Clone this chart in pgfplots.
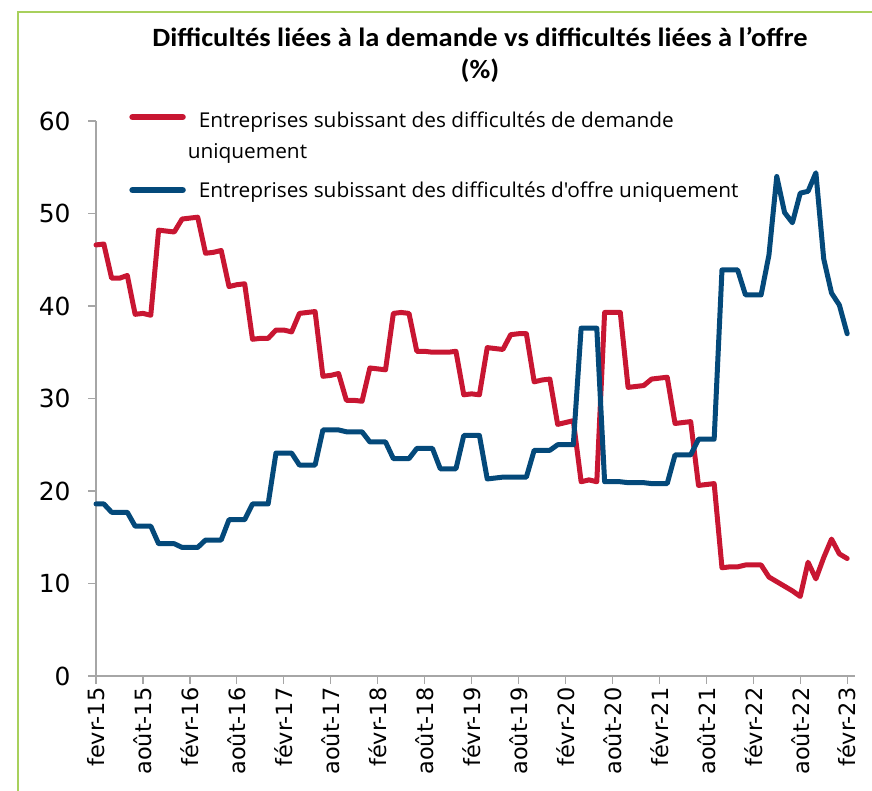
\documentclass[border=0pt]{standalone}
\usepackage{fontspec}
\setmainfont{DejaVu Sans}
\newfontfamily\legfont[FakeStretch=1.02]{Open Sans}
\newfontfamily\titlefont[FakeStretch=1.08]{Carlito}
\usepackage{pgfplots}
\pgfplotsset{compat=1.18}
\usepackage{pgfplotstable}
\definecolor{cred}{RGB}{200,22,50}
\definecolor{cblue}{RGB}{4,73,122}
\definecolor{caxis}{RGB}{166,166,166}
\definecolor{cframe}{RGB}{168,208,92}

\pgfplotstableread{
m red blue
0 46.6 18.6
1 46.7 18.6
2 43.0 17.7
3 43.0 17.7
4 43.3 17.7
5 39.1 16.2
6 39.2 16.2
7 39.0 16.2
8 48.2 14.3
9 48.1 14.3
10 48.0 14.3
11 49.4 13.9
12 49.5 13.9
13 49.6 13.9
14 45.7 14.7
15 45.8 14.7
16 46.0 14.7
17 42.1 16.9
18 42.3 16.9
19 42.4 16.9
20 36.4 18.6
21 36.5 18.6
22 36.5 18.6
23 37.4 24.1
24 37.4 24.1
25 37.2 24.1
26 39.2 22.8
27 39.3 22.8
28 39.4 22.8
29 32.4 26.6
30 32.5 26.6
31 32.7 26.6
32 29.8 26.4
33 29.8 26.4
34 29.7 26.4
35 33.3 25.3
36 33.2 25.3
37 33.1 25.3
38 39.2 23.5
39 39.3 23.5
40 39.2 23.5
41 35.1 24.6
42 35.1 24.6
43 35.0 24.6
44 35.0 22.4
45 35.0 22.4
46 35.1 22.4
47 30.4 26.0
48 30.5 26.0
49 30.4 26.0
50 35.5 21.3
51 35.4 21.4
52 35.3 21.5
53 36.9 21.5
54 37.0 21.5
55 37.0 21.5
56 31.8 24.4
57 32.0 24.4
58 32.1 24.4
59 27.2 25.0
60 27.4 25.0
61 27.6 25.0
62 21.0 37.6
63 21.2 37.6
64 21.0 37.6
65 39.3 21.0
66 39.3 21.0
67 39.3 21.0
68 31.2 20.9
69 31.3 20.9
70 31.4 20.9
71 32.1 20.8
72 32.2 20.8
73 32.3 20.8
74 27.3 23.9
75 27.4 23.9
76 27.5 23.9
77 20.6 25.6
78 20.7 25.6
79 20.8 25.6
80 11.7 43.9
81 11.8 43.9
82 11.8 43.9
83 12.0 41.2
84 12.0 41.2
85 12.0 41.2
86 10.7 45.5
87 10.2 54.0
88 9.7 50.1
89 9.2 49.0
90 8.6 52.2
91 12.3 52.4
92 10.5 54.4
93 12.8 45.1
94 14.8 41.4
95 13.2 40.1
96 12.7 37.0
}\data

\begin{document}
\begin{tikzpicture}[x=1bp,y=1bp]
\path[use as bounding box] (0,0) rectangle (872,791);
\draw[cframe, line width=2bp] (18,0) -- (18,779) -- (872,779);
\node[font=\titlefont\bfseries\fontsize{26.5}{30}\selectfont, anchor=base] at (480,744.5) {Difficultés liées à la demande vs difficultés liées à l’offre};
\node[font=\titlefont\bfseries\fontsize{26.5}{30}\selectfont, anchor=base] at (480,712) {(\%)};
\begin{axis}[
  at={(96bp,115bp)}, anchor=south west,
  scale only axis, width=759bp, height=555bp,
  xmin=0, xmax=97, ymin=0, ymax=60,
  axis x line*=bottom, axis y line*=left,
  axis line style={caxis, line width=1.3bp, -},
  ytick={0,10,...,60},
  xtick={0,6,...,96},
  xticklabels={fevr-15,août-15,févr-16,août-16,févr-17,août-17,févr-18,août-18,févr-19,août-19,févr-20,août-20,févr-21,août-21,févr-22,août-22,févr-23},
  tick align=outside, major tick length=8bp,
  tick style={caxis, line width=1.3bp},
  xticklabel style={rotate=90, anchor=east, font=\fontsize{22.5}{22.5}\selectfont},
  yticklabel style={font=\fontsize{25}{25}\selectfont, xshift=-14bp},
  /pgf/number format/assume math mode=true,
  clip=false,
  legend style={draw=none, fill=none, at={(axis description cs:0.0397,1.0246)}, anchor=north west,
    font=\legfont\fontsize{20.5}{31}\selectfont, cells={anchor=west, align=left}, row sep=18bp},
]
\addplot[cred, line width=5bp, line join=round, line cap=round,
  legend image code/.code={\draw[cred, line width=6.5bp, line cap=round] (0bp,18.5bp) -- (50bp,18.5bp);}]
  table[x=m, y=red] {\data};
\addlegendentry{\hspace*{11bp}Entreprises subissant des difficultés de demande\\uniquement}
\addplot[cblue, line width=5bp, line join=round, line cap=round,
  legend image code/.code={\draw[cblue, line width=6.5bp, line cap=round] (0bp,0bp) -- (50bp,0bp);}]
  table[x=m, y=blue] {\data};
\addlegendentry{\hspace*{11bp}Entreprises subissant des difficultés d'offre uniquement}
\end{axis}
\end{tikzpicture}
\end{document}
